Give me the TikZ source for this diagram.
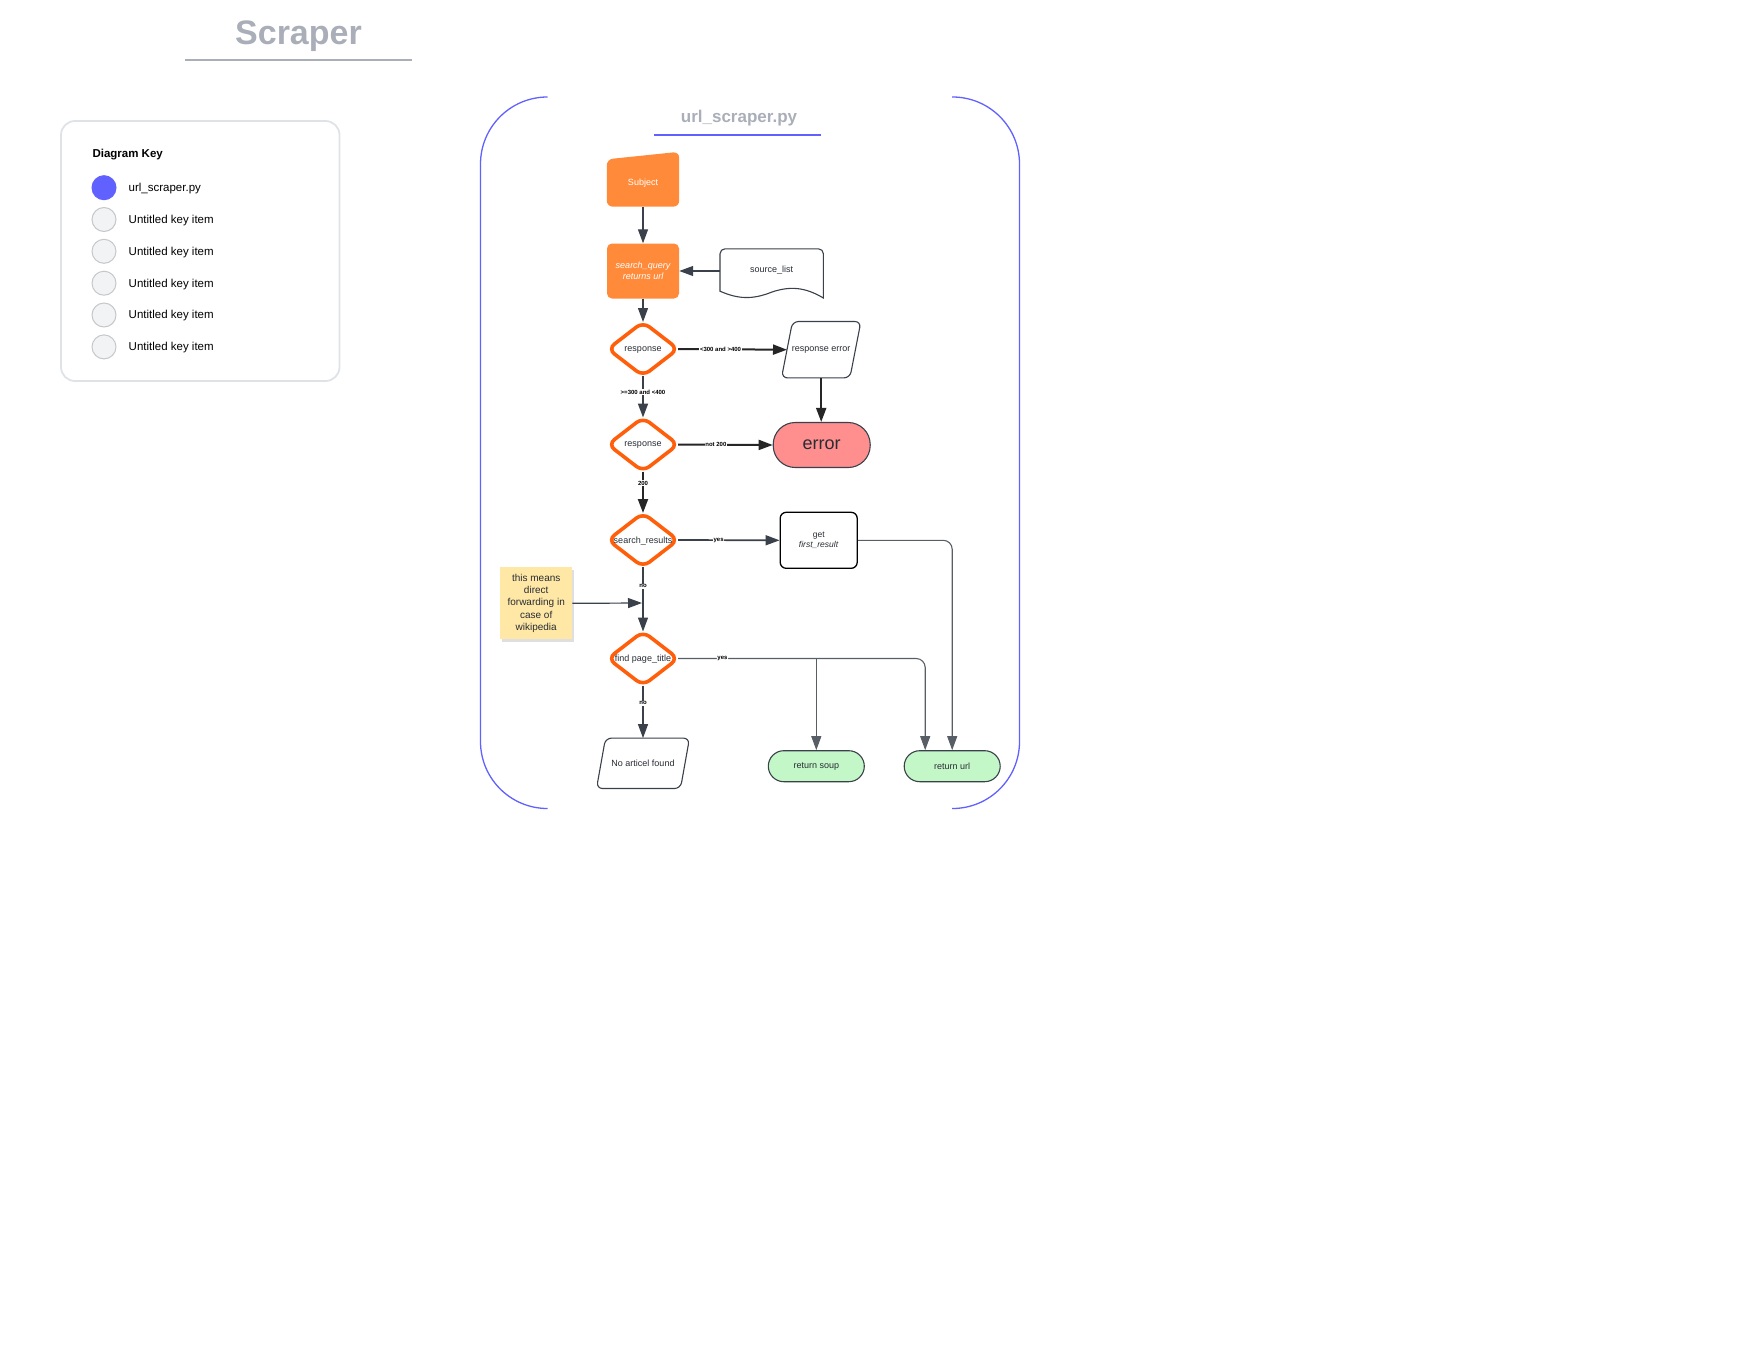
\documentclass[tikz,border=0pt]{standalone}
\usepackage{fontspec}
\setmainfont{Liberation Sans}
\usetikzlibrary{shapes.geometric,arrows.meta,shadows,positioning}

\pgfdeclarelayer{background}
\pgfsetlayers{background,main}

\definecolor{brandorange}{HTML}{FF8B3A}
\definecolor{decisionorange}{HTML}{FF5F0A}
\definecolor{lineblue}{HTML}{6161FF}
\definecolor{titlegrey}{HTML}{A9AEB8}
\definecolor{linegrey}{HTML}{3A414A}
\definecolor{textdark}{HTML}{282C33}
\definecolor{errorred}{HTML}{FF8F8F}
\definecolor{okgreen}{HTML}{C3F7C8}
\definecolor{noteyellow}{HTML}{FFE8A6}
\definecolor{keyborder}{HTML}{DFE3E8}
\definecolor{keyfill}{HTML}{F2F3F5}
\definecolor{keyring}{HTML}{C5C7CB}

\tikzset{
  nodetext/.style={font=\fontsize{9}{11}\selectfont, text=textdark},
  lbl/.style={fill=white, inner sep=0.6pt, font=\fontsize{6}{7}\selectfont\bfseries, text=black},
  flowline/.style={draw=linegrey, line width=1.2pt, -{Triangle[length=14pt,width=10pt]}},
  midline/.style={draw=linegrey, line width=1.7pt, -{Triangle[length=14pt,width=10pt]}},
  boldline/.style={draw=black!85, line width=2pt, -{Triangle[length=14pt,width=10pt]}},
  thinline/.style={draw=linegrey!85, line width=1.1pt, -{Triangle[length=14pt,width=10pt]}},
  shapeline/.style={draw=linegrey, line width=1.1pt},
  decision/.style={diamond, draw=decisionorange, line width=3.6pt, rounded corners=8pt,
    minimum width=70pt, minimum height=54pt, inner sep=0pt, outer sep=0pt,
    label={[nodetext, yshift=-1pt]center:#1}},
  startbox/.style={nodetext, text=white, minimum width=72pt, minimum height=47pt, inner sep=0pt},
  procbox/.style={rectangle, fill=brandorange, rounded corners=5pt, nodetext, text=white,
    font=\fontsize{9}{11}\selectfont\itshape, align=center,
    minimum width=72pt, minimum height=55pt, inner sep=0pt},
  docbox/.style={nodetext, minimum width=103pt, minimum height=42pt, inner sep=0pt},
  iobox/.style={nodetext, minimum height=56pt, inner sep=0pt},
  plainbox/.style={rectangle, draw=black, line width=1.3pt, rounded corners=6pt, nodetext,
    font=\fontsize{8.5}{10.7}\selectfont, align=center,
    minimum width=77pt, minimum height=56pt, inner sep=0pt},
  errorbox/.style={rectangle, draw=linegrey, line width=1.1pt, fill=errorred, rounded corners=22pt,
    font=\fontsize{18}{20}\selectfont, text=textdark, minimum width=97pt, minimum height=45pt, inner sep=0pt},
  endbox/.style={rectangle, draw=linegrey, line width=1.1pt, fill=okgreen, rounded corners=15.5pt,
    nodetext, minimum width=96pt, minimum height=31pt, inner sep=0pt},
  notebox/.style={rectangle, fill=noteyellow, minimum width=72pt, minimum height=72pt, inner sep=0pt,
    align=center, font=\fontsize{10}{12.3}\selectfont, text=textdark,
    drop shadow={opacity=.25, shadow xshift=1.5pt, shadow yshift=-2.5pt}},
  keydot/.style={circle, draw=keyring, fill=keyfill, line width=1pt, minimum size=24pt, inner sep=0pt},
  keytext/.style={font=\fontsize{11.5}{13}\selectfont, text=black, inner sep=0pt},
}

\begin{document}
\begin{tikzpicture}[x=1pt,y=-1pt]
  \useasboundingbox (0,0) rectangle (1760,1360);

  % page title
  \node[font=\fontsize{34}{38}\selectfont\bfseries, text=titlegrey, anchor=base] (title) at (298.5,44.3) {Scraper};
  \draw[titlegrey, line width=2pt] (185,59.5) -- (412,59.5);

  % diagram key
  \draw[keyborder, line width=1.8pt, rounded corners=14pt] (61,121) rectangle (339.5,381);
  \node[keytext, font=\fontsize{11.5}{13}\selectfont\bfseries, anchor=west] (keytitle) at (92.3,155) {Diagram Key};
  \node[keydot, fill=lineblue, draw=lineblue] (k1) at (104,187.7) {};
  \node[keytext, right=12pt of k1, yshift=-1pt] (kt1) {url\_scraper.py};
  \foreach \i/\y in {2/219.5,3/251.3,4/283.2,5/315,6/346.9} {
    \node[keydot] (k\i) at (104,\y) {};
    \node[keytext, right=12pt of k\i, yshift=-1pt] (kt\i) {Untitled key item};
  }

  % container
  \draw[lineblue, line width=1.3pt, rounded corners=67pt] (547.5,97) -- (480.5,97) -- (480.5,808.5) -- (547.5,808.5);
  \draw[lineblue, line width=1.3pt, rounded corners=67pt] (952,97) -- (1019.5,97) -- (1019.5,808.5) -- (952,808.5);
  \node[font=\fontsize{17}{19}\selectfont\bfseries, text=titlegrey, anchor=base] (pytitle) at (739,122.3) {url\_scraper.py};
  \draw[lineblue, line width=2pt] (654,134.5) -- (821,134.5);

  % flow nodes
  \node[startbox] (subject) at (643,183) {Subject};
  \node[procbox] (squery) at (643,271) {search\_query\\returns url};
  \node[docbox] (src) at (771.7,270) {source\_list};
  \node[decision={response}] (resp1) at (643,349) {};
  \node[iobox, minimum width=79pt] (resperr) at (821.2,349.7) {response error};
  \node[decision={response}] (resp2) at (643,444.5) {};
  \node[errorbox] (error) at (821.7,445) {error};
  \node[decision={search\_results}] (sres) at (643,540) {};
  \node[plainbox] (getfr) at (818.7,540.3) {get\\\textit{first\_result}};
  \node[notebox] (note) at (536.2,603.3) {this means\\direct\\forwarding in\\case of\\wikipedia};
  \coordinate (join) at (642,603);
  \node[decision={find page\_title}] (fpt) at (643,658.5) {};
  \node[iobox, minimum width=92.6pt, minimum height=50pt] (noart) at (643,763.3) {No articel found};
  \node[endbox] (rsoup) at (816.3,766.2) {return soup};
  \node[endbox] (rurl) at (952.2,766.2) {return url};

  % outlines of the special shapes
  \begin{pgfonlayer}{background}
    \fill[brandorange, rounded corners=6pt] (subject.south west) -- (subject.north west)
      -- ([yshift=7.5pt]subject.north east) -- (subject.south east) -- cycle;
    \draw[shapeline, fill=white] (src.south west) [rounded corners=5pt] -- (src.north west) -- (src.north east)
      [sharp corners] -- (823.3,298) .. controls (805,287) and (790,286) .. (772,292)
      .. controls (752,300) and (738,299) .. (src.south west) -- cycle;
    \draw[shapeline, fill=white, rounded corners=6pt] ([xshift=11pt]resperr.north west) -- (resperr.north east)
      -- ([xshift=-11pt]resperr.south east) -- (resperr.south west) -- cycle;
    \draw[shapeline, fill=white, rounded corners=6pt] ([xshift=9pt]noart.north west) -- (noart.north east)
      -- ([xshift=-9pt]noart.south east) -- (noart.south west) -- cycle;
  \end{pgfonlayer}

  % connectors
  \draw[flowline] (subject) -- (squery);
  \draw[flowline] (src.west |- squery.east) -- (squery.east);
  \draw[flowline] (squery) -- (resp1);
  \draw[boldline] (resp1.east) -- node[lbl, pos=.39] {<300 and >400} ([xshift=5.5pt]resperr.west);
  \draw[midline] (resp1.south) -- node[lbl, pos=.39] {>=300 and <400} (resp2.north);
  \draw[boldline] (resperr.south) -- (resperr.south |- error.north);
  \draw[boldline] (resp2.east) -- node[lbl, pos=.4] {not 200} (error.west);
  \draw[boldline] (resp2.south) -- node[lbl, pos=.28] {200} (sres.north);
  \draw[midline] (sres.east) -- node[lbl, pos=.4] {yes} (getfr.west);
  \draw[flowline] (sres.south) -- node[lbl, pos=.3] {no} (fpt.north);
  \draw[flowline] (note.east) -- (join);
  \draw[thinline, rounded corners=9pt] (fpt.east) -| node[lbl, pos=.09] {yes} ([xshift=-27pt]rurl.north);
  \draw[thinline] (fpt.east -| rsoup.north) -- (rsoup.north);
  \draw[thinline, rounded corners=9pt] (getfr.east) -| (rurl.north);
  \draw[flowline] (fpt.south) -- node[lbl, pos=.34] {no} (noart.north);

\end{tikzpicture}
\end{document}
